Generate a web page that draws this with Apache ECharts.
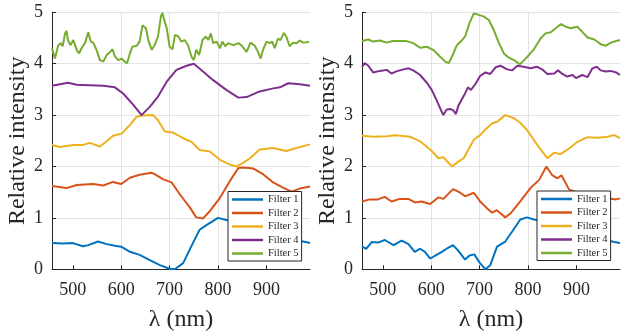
<!DOCTYPE html>
<html>
<head>
<meta charset="utf-8">
<script src="https://cdn.jsdelivr.net/npm/echarts@6/dist/echarts.min.js"></script>
<style>html,body{margin:0;padding:0;background:#fff}#c{width:625px;height:333px}</style>
</head>
<body>
<div id="c"></div>
<script>
// ---- Data (wavelength in nm, relative intensity) ----
const seriesNames = ['Filter 1', 'Filter 2', 'Filter 3', 'Filter 4', 'Filter 5'];
const xTickValues = [500, 600, 700, 800, 900];

// Left panel
const leftF1X = [457, 480, 500, 521, 532, 552, 570, 587, 600, 618, 638, 659, 680, 697, 705, 712, 728, 748, 762, 776, 800, 817, 850, 900, 940, 976, 990];
const leftF1Y = [0.51, 0.50, 0.51, 0.45, 0.47, 0.54, 0.49, 0.46, 0.44, 0.34, 0.28, 0.18, 0.08, 0.02, 0.0, 0.01, 0.12, 0.51, 0.77, 0.86, 1.0, 0.96, 0.88, 0.75, 0.62, 0.54, 0.51];
const leftF2X = [457, 487, 508, 542, 563, 583, 600, 618, 638, 662, 669, 687, 704, 721, 742, 755, 769, 783, 804, 824, 842, 852, 873, 893, 914, 934, 952, 969, 990];
const leftF2Y = [1.62, 1.58, 1.64, 1.66, 1.63, 1.70, 1.66, 1.78, 1.84, 1.88, 1.85, 1.75, 1.69, 1.46, 1.20, 1.01, 0.99, 1.13, 1.39, 1.71, 1.97, 1.98, 1.96, 1.85, 1.69, 1.59, 1.51, 1.57, 1.61];
const leftF3X = [457, 473, 501, 521, 535, 556, 570, 583, 601, 618, 632, 645, 666, 676, 690, 707, 728, 745, 762, 783, 804, 824, 838, 852, 866, 886, 914, 941, 962, 990];
const leftF3Y = [2.42, 2.38, 2.42, 2.42, 2.46, 2.39, 2.49, 2.60, 2.64, 2.81, 2.97, 2.99, 3.0, 2.90, 2.68, 2.66, 2.55, 2.48, 2.32, 2.29, 2.13, 2.04, 2.0, 2.07, 2.16, 2.33, 2.36, 2.30, 2.36, 2.43];
const leftF4X = [457, 490, 508, 535, 563, 587, 604, 625, 642, 659, 676, 694, 714, 735, 750, 769, 790, 817, 842, 859, 886, 914, 928, 945, 969, 990];
const leftF4Y = [3.57, 3.63, 3.59, 3.58, 3.57, 3.54, 3.42, 3.20, 3.0, 3.16, 3.36, 3.65, 3.88, 3.96, 4.0, 3.85, 3.68, 3.49, 3.34, 3.35, 3.46, 3.52, 3.54, 3.62, 3.60, 3.57];
const leftF5X = [457,463,470,475,479,484,487,490,495,501,508,513,518,525,532,537,542,549,556,563,570,576,582,587,594,601,607,612,618,623,632,638,644,651,656,663,669,676,682,685,688,694,700,706,711,718,724,731,738,745,750,755,761,768,775,780,785,790,797,804,809,815,821,831,842,848,859,867,876,883,888,893,900,907,912,917,924,929,936,941,948,955,962,969,976,988];
const leftF5Y = [4.30,4.10,4.36,4.40,4.34,4.59,4.64,4.46,4.36,4.46,4.27,4.20,4.30,4.40,4.61,4.43,4.41,4.27,4.07,4.04,4.17,4.22,4.28,4.14,4.07,4.10,4.04,4.01,4.20,4.33,4.35,4.43,4.75,4.69,4.46,4.27,4.36,4.53,4.92,4.99,4.88,4.69,4.33,4.28,4.56,4.53,4.43,4.46,4.36,4.14,4.07,4.27,4.17,4.46,4.53,4.46,4.59,4.40,4.43,4.30,4.43,4.34,4.40,4.36,4.40,4.36,4.23,4.41,4.35,4.22,4.10,4.27,4.43,4.40,4.43,4.30,4.49,4.46,4.60,4.53,4.34,4.41,4.40,4.45,4.41,4.42];

// Right panel
const rightF1X = [457, 466, 477, 490, 504, 522, 539, 553, 566, 577, 587, 598, 611, 622, 632, 645, 656, 670, 679, 689, 700, 712, 722, 736, 753, 767, 784, 798, 812, 850, 900, 950, 978, 990];
const rightF1Y = [0.44, 0.40, 0.53, 0.52, 0.57, 0.47, 0.56, 0.49, 0.34, 0.40, 0.34, 0.21, 0.28, 0.34, 0.40, 0.47, 0.36, 0.19, 0.27, 0.29, 0.13, 0.0, 0.08, 0.44, 0.54, 0.73, 0.97, 1.01, 0.97, 0.90, 0.75, 0.60, 0.53, 0.51];
const rightF2X = [457, 473, 490, 504, 518, 535, 553, 566, 580, 598, 615, 625, 645, 660, 670, 688, 701, 715, 726, 735, 743, 753, 764, 784, 805, 823, 838, 850, 861, 869, 885, 895, 920, 950, 982, 990];
const rightF2Y = [1.32, 1.36, 1.36, 1.41, 1.32, 1.37, 1.37, 1.30, 1.32, 1.27, 1.40, 1.37, 1.56, 1.49, 1.42, 1.49, 1.32, 1.19, 1.10, 1.15, 1.09, 1.01, 1.09, 1.32, 1.58, 1.74, 2.00, 1.83, 1.77, 1.83, 1.55, 1.52, 1.45, 1.40, 1.36, 1.38];
const rightF3X = [457, 480, 508, 525, 556, 577, 598, 615, 625, 643, 654, 667, 688, 701, 712, 726, 736, 753, 771, 784, 798, 819, 840, 854, 867, 885, 902, 923, 944, 964, 978, 990];
const rightF3Y = [2.60, 2.58, 2.59, 2.61, 2.58, 2.49, 2.33, 2.16, 2.18, 2.00, 2.08, 2.16, 2.52, 2.61, 2.72, 2.84, 2.87, 3.00, 2.94, 2.85, 2.71, 2.42, 2.16, 2.27, 2.24, 2.35, 2.48, 2.57, 2.56, 2.58, 2.61, 2.55];
const rightF4X = [457,463,470,480,494,508,518,528,539,553,563,577,591,601,611,620,625,632,639,646,651,656,667,676,682,691,701,712,722,733,743,757,767,778,791,805,819,829,840,854,862,871,881,892,899,912,923,933,942,950,961,971,982,990];
const rightF4Y = [3.94,4.01,3.96,3.83,3.86,3.88,3.81,3.85,3.88,3.91,3.87,3.78,3.63,3.49,3.29,3.10,3.00,3.11,3.12,3.09,3.02,3.18,3.37,3.54,3.49,3.60,3.76,3.83,3.80,3.93,3.96,3.89,3.87,3.96,3.94,3.91,3.94,3.89,3.80,3.81,3.87,3.80,3.75,3.78,3.72,3.78,3.74,3.91,3.94,3.87,3.85,3.86,3.83,3.78];
const rightF5X = [457,470,480,494,508,521,535,549,563,577,591,604,618,629,636,643,653,663,670,679,688,698,708,719,729,740,750,760,771,783,791,802,812,826,836,847,857,868,878,888,902,912,923,937,950,961,971,982,990];
const rightF5Y = [4.44,4.47,4.43,4.45,4.41,4.44,4.44,4.44,4.40,4.31,4.33,4.27,4.14,4.04,4.01,4.14,4.36,4.45,4.53,4.79,4.98,4.95,4.92,4.85,4.66,4.40,4.20,4.12,4.07,3.99,4.06,4.17,4.28,4.49,4.59,4.61,4.69,4.77,4.72,4.69,4.72,4.62,4.51,4.47,4.38,4.35,4.41,4.44,4.46];

// ---- Styling ----
const colors = ['#0072BD', '#D95319', '#EDB120', '#7E2F8E', '#77AC30'];
const FONT = 'Liberation Serif';
const INK = '#262626';

const zip = (xs, ys) => xs.map((x, i) => [x, ys[i]]);
const panels = [
  [[leftF1X, leftF1Y], [leftF2X, leftF2Y], [leftF3X, leftF3Y], [leftF4X, leftF4Y], [leftF5X, leftF5Y]],
  [[rightF1X, rightF1Y], [rightF2X, rightF2Y], [rightF3X, rightF3Y], [rightF4X, rightF4Y], [rightF5X, rightF5Y]]
];

const gridLefts = [52, 362];
const grids = gridLefts.map(l => ({ left: l, top: 12.3, width: 258, height: 257, containLabel: false, outerBoundsMode: 'none' }));

const xAxes = gridLefts.map((_, i) => ({
  type: 'value', gridIndex: i, min: 457, max: 990,
  name: 'λ (nm)', nameLocation: 'middle', nameGap: 38,
  nameTextStyle: { fontFamily: FONT, fontSize: 24, color: INK },
  axisLine: { show: true, onZero: false, lineStyle: { color: INK, width: 1 } },
  axisTick: { show: true, inside: true, length: 4, customValues: xTickValues, lineStyle: { color: INK } },
  axisLabel: { show: true, customValues: xTickValues, margin: 12,
    fontFamily: FONT, fontSize: 18, color: INK },
  splitLine: { show: true, showMinLine: false, showMaxLine: false, lineStyle: { color: '#e2e2e2', width: 1 } }
}));

const yAxes = gridLefts.map((_, i) => ({
  type: 'value', gridIndex: i, min: 0, max: 5, interval: 1,
  name: 'Relative intensity', nameLocation: 'middle', nameGap: 20,
  nameTextStyle: { fontFamily: FONT, fontSize: 24, color: INK },
  axisLine: { show: true, lineStyle: { color: INK, width: 1 } },
  axisTick: { show: true, inside: true, length: 4, lineStyle: { color: INK } },
  axisLabel: { show: true, margin: 9, fontFamily: FONT, fontSize: 18, color: INK },
  splitLine: { show: true, lineStyle: { color: '#e2e2e2', width: 1 } }
}));

const series = [];
panels.forEach((panel, p) => {
  panel.forEach(([xs, ys], k) => {
    series.push({
      type: 'line', name: seriesNames[k], xAxisIndex: p, yAxisIndex: p,
      data: zip(xs, ys), symbol: 'none', showSymbol: false, smooth: false,
      lineStyle: { color: colors[k], width: 2 }, itemStyle: { color: colors[k] },
      z: 2 + k
    });
  });
});

const legendBase = {
  orient: 'vertical', data: seriesNames, icon: 'rect', itemWidth: 31, itemHeight: 2.5, itemGap: 2.5,
  padding: [2.5, 3, 2, 4], borderColor: INK, borderWidth: 1, backgroundColor: '#ffffff',
  selectedMode: false, z: 10,
  textStyle: { fontFamily: FONT, fontSize: 10.5, color: INK, lineHeight: 11 }
};

const chart = echarts.init(document.getElementById('c'), null, { renderer: 'canvas' });
chart.setOption({
  animation: false,
  color: colors,
  grid: grids,
  xAxis: xAxes,
  yAxis: yAxes,
  legend: [
    Object.assign({}, legendBase, { left: 228, top: 191.5 }),
    Object.assign({}, legendBase, { left: 537, top: 191 })
  ],
  series: series
});
</script>
</body>
</html>
